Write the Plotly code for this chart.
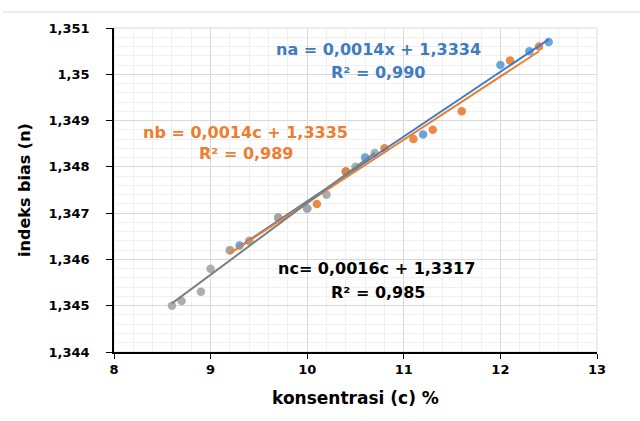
import numpy as np
import plotly.graph_objects as go

# ---- data ----
na_x = [9.3, 9.7, 10.0, 10.4, 10.6, 11.2, 12.0, 12.3, 12.5]
na_y = [1.3463, 1.3469, 1.3471, 1.3479, 1.3482, 1.3487, 1.3502, 1.3505, 1.3507]
nb_x = [9.2, 9.4, 9.7, 10.1, 10.4, 10.8, 11.1, 11.3, 11.6, 12.1, 12.4]
nb_y = [1.3462, 1.3464, 1.3469, 1.3472, 1.3479, 1.3484, 1.3486, 1.3488, 1.3492, 1.3503, 1.3506]
nc_x = [8.6, 8.7, 8.9, 9.0, 9.2, 9.4, 9.7, 10.0, 10.2, 10.5, 10.7]
nc_y = [1.3450, 1.3451, 1.3453, 1.3458, 1.3462, 1.3464, 1.3469, 1.3471, 1.3474, 1.3480, 1.3483]

x_ticks = [8, 9, 10, 11, 12, 13]
x_ticktext = ["8", "9", "10", "11", "12", "13"]
y_ticks = [1.344, 1.345, 1.346, 1.347, 1.348, 1.349, 1.350, 1.351]
y_ticktext = ["1,344", "1,345", "1,346", "1,347", "1,348", "1,349", "1,35", "1,351"]

eq_a = ["na = 0,0014x + 1,3334", "R² = 0,990"]
eq_b = ["nb = 0,0014c + 1,3335", "R² = 0,989"]
eq_c = ["nc= 0,0016c + 1,3317", "R² = 0,985"]

BLUE = "#5B9BD5"
ORANGE = "#ED7D31"
GRAY = "#A5A5A5"
BLUE_LINE = "#3E7CC0"
ORANGE_LINE = "#ED7D31"
GRAY_LINE = "#7F7F7F"

fig = go.Figure()

series = [(na_x, na_y, BLUE, BLUE_LINE), (nb_x, nb_y, ORANGE, ORANGE_LINE), (nc_x, nc_y, GRAY, GRAY_LINE)]
for xs, ys, c, lc in series:
    fig.add_trace(go.Scatter(x=xs, y=ys, mode="markers",
                             marker=dict(color=c, size=8.5, opacity=0.9),
                             showlegend=False, hoverinfo="skip"))
for xs, ys, c, lc in series:
    k, b = np.polyfit(xs, ys, 1)
    xl = [min(xs), max(xs)]
    fig.add_trace(go.Scatter(x=xl, y=[k * v + b for v in xl], mode="lines",
                             line=dict(color=lc, width=2), showlegend=False, hoverinfo="skip"))

FONT = "DejaVu Sans"
ann = [
    (eq_a[0], 378, 50, BLUE_LINE), (eq_a[1], 378, 73, BLUE_LINE),
    (eq_b[0], 245, 132, ORANGE), (eq_b[1], 246, 153, ORANGE),
    (eq_c[0], 376, 268, "#000000"), (eq_c[1], 378, 292, "#000000"),
]
L, R, T, B = 114, 43, 28, 69
W, H = 640, 421
pw, ph = W - L - R, H - T - B
for txt, px, py, col in ann:
    fig.add_annotation(text="<b>" + txt + "</b>", xref="paper", yref="paper",
                       x=(px - L) / pw, y=(H - B - py) / ph, showarrow=False,
                       xanchor="center", yanchor="middle",
                       font=dict(family=FONT, size=16, color=col))

# faint top rule
fig.add_shape(type="line", xref="paper", yref="paper",
              x0=(3 - L) / pw, x1=(W - L) / pw, y0=(H - B - 12) / ph, y1=(H - B - 12) / ph,
              line=dict(color="#D9D9D9", width=1))

fig.update_layout(
    width=W, height=H, margin=dict(l=L, r=R, t=T, b=B),
    paper_bgcolor="white", plot_bgcolor="white",
    font=dict(family=FONT, color="#000000"),
)
fig.update_xaxes(range=[8, 13], tickvals=x_ticks, ticktext=x_ticktext,
                 showgrid=True, gridcolor="#D9D9D9", gridwidth=1,
                 minor=dict(dtick=0.2, showgrid=True, gridcolor="#F0F0F0"),
                 showline=True, linecolor="#000000", linewidth=1.5,
                 ticks="outside", ticklen=5, tickcolor="#000000",
                 tickfont=dict(family=FONT, size=13, color="#000000", weight="bold"),
                 title=dict(text="<b>konsentrasi (c) %</b>", font=dict(family=FONT, size=17), standoff=16),
                 zeroline=False, mirror=False)
fig.update_yaxes(range=[1.344, 1.351], tickvals=y_ticks, ticktext=y_ticktext,
                 showgrid=True, gridcolor="#D9D9D9", gridwidth=1,
                 minor=dict(dtick=0.0002, showgrid=True, gridcolor="#F0F0F0"),
                 showline=True, linecolor="#000000", linewidth=1.5,
                 ticks="outside", ticklen=6, tickcolor="#000000",
                 ticklabelstandoff=14,
                 tickfont=dict(family=FONT, size=13, color="#000000", weight="bold"),
                 title=dict(text="<b>indeks bias (n)</b>", font=dict(family=FONT, size=16), standoff=14),
                 zeroline=False)
fig.add_shape(type="rect", xref="paper", yref="paper", x0=0, x1=1, y0=0, y1=1,
              line=dict(color="#D9D9D9", width=1), layer="below")

fig.write_html("out.html")
